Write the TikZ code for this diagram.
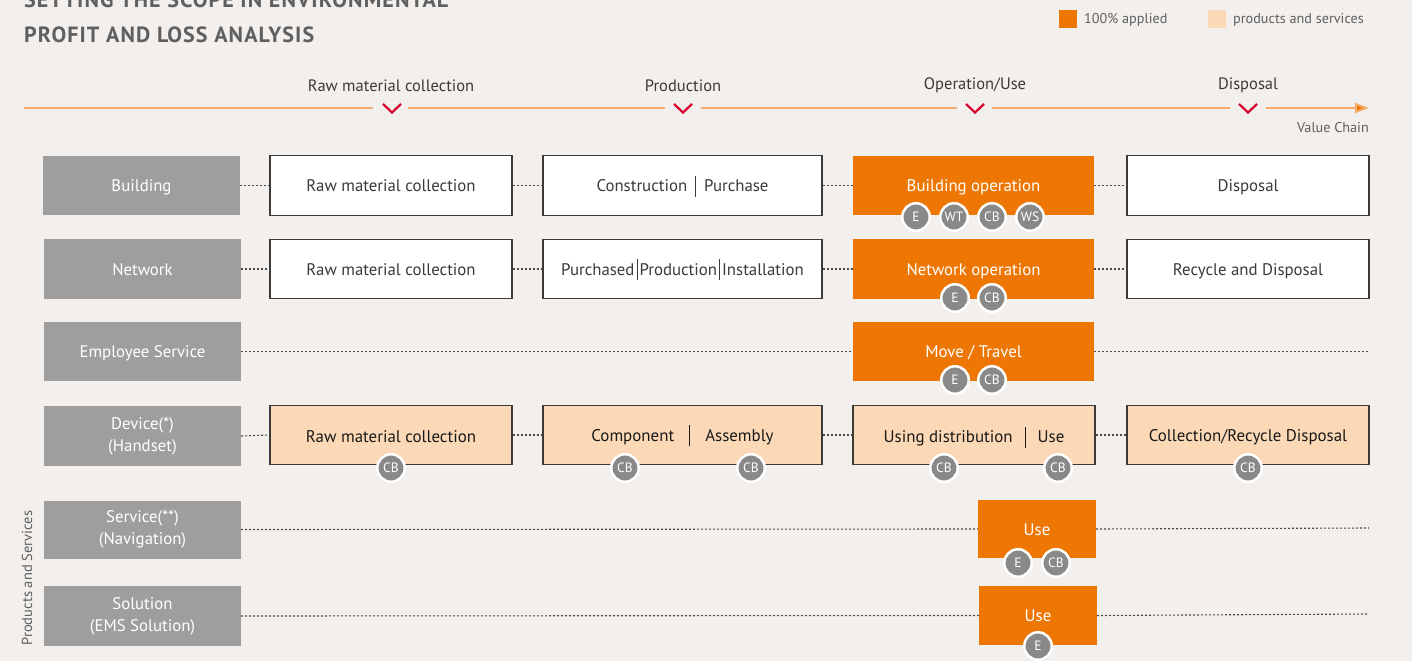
\documentclass[tikz,border=0pt]{standalone}
\usepackage{fontspec}
\setmainfont{PT Sans}
\usetikzlibrary{arrows.meta,calc}
\definecolor{bgc}{HTML}{F3EFEC}
\definecolor{orng}{HTML}{EE7703}
\definecolor{peach}{HTML}{FBD8B6}
\definecolor{lblgray}{HTML}{9D9E9D}
\definecolor{circgray}{HTML}{898989}
\definecolor{chainline}{HTML}{F3AA6C}
\definecolor{chev}{HTML}{D5002B}
\definecolor{txtdark}{HTML}{3A3A3A}
\definecolor{titlegray}{HTML}{5E5F60}
\definecolor{dotgray}{HTML}{4A4A4A}
\newcommand\fsz[2]{\fontsize{#1}{#2}\selectfont}
\newcommand\vbar[1]{\hspace{#1}\rule[-5pt]{1pt}{21pt}\hspace{#1}}
\tikzset{
  x=1pt, y=-1pt,
  lbl/.style={fill=lblgray, text=white, minimum width=197pt, minimum height=59.5pt,
    inner sep=0pt, align=center, font=\fsz{16.8}{22}},
  oneline/.style={text height=12.5pt, text depth=0pt},
  wbox/.style={fill=white, draw=txtdark, line width=1.1pt, text=txtdark,
    minimum height=59.5pt, inner sep=0pt, align=center, font=\fsz{16.8}{20}, oneline},
  obox/.style={fill=orng, text=white, minimum height=59.5pt, inner sep=0pt,
    align=center, font=\fsz{16.8}{20}, oneline},
  pbox/.style={fill=peach, draw=txtdark, line width=1.1pt, text=black!90,
    minimum height=59.5pt, inner sep=0pt, align=center, font=\fsz{16.9}{20}, oneline},
  tag/.style={circle, fill=circgray, draw=white, line width=2.5pt, minimum size=27.5pt,
    inner sep=0pt, text=white, font=\fsz{13.5}{15}},
  dots/.style={draw=dotgray, line width=1.1pt, dash pattern=on 2pt off 2pt},
  chain/.style={draw=chainline, line width=2pt},
  chevron/.style={draw=chev, line width=2.2pt},
  stage/.style={text=txtdark, font=\fsz{16.5}{18}, inner sep=0pt},
  legtxt/.style={text=titlegray, font=\fsz{14.2}{16}, inner sep=0pt, anchor=west},
  ttl/.style={text=titlegray, font=\bfseries\fsz{22}{24}\addfontfeatures{LetterSpace=5}, inner sep=0pt, anchor=base west}
}
\begin{document}
\begin{tikzpicture}
\useasboundingbox (0,0) rectangle (1412,661);
\fill[bgc] (0,0) rectangle (1412,661);

% title
\node[ttl] (t1) at (24,8) {SETTING THE SCOPE IN ENVIRONMENTAL};
\node[ttl] (t2) at (24,43) {PROFIT AND LOSS ANALYSIS};

% legend
\node[fill=orng, minimum size=18pt, inner sep=0pt] (lg1) at (1067.5,19.5) {};
\node[legtxt] (lg1t) at (1084,19.5) {100\% applied};
\node[fill=peach, minimum size=18pt, inner sep=0pt] (lg2) at (1216.5,19.5) {};
\node[legtxt] (lg2t) at (1233,19.5) {products and services};

% value chain
\node[stage] (s1) at (391,85.5) {Raw material collection};
\node[stage] (s2) at (683,85.5) {Production};
\node[stage] (s3) at (975,85.5) {Operation/Use};
\node[stage] (s4) at (1248,85.5) {Disposal};
\coordinate (v0) at (24,108);
\coordinate (v1a) at (373,108); \coordinate (v1b) at (408,108);
\coordinate (v2a) at (665,108); \coordinate (v2b) at (701,108);
\coordinate (v3a) at (957,108); \coordinate (v3b) at (992,108);
\coordinate (v4a) at (1230,108); \coordinate (v4b) at (1266,108);
\coordinate (vend) at (1369,108);
\draw[chain] (v0) -- (v1a);
\draw[chain] (v1b) -- (v2a);
\draw[chain] (v2b) -- (v3a);
\draw[chain] (v3b) -- (v4a);
\draw[chain, -{Triangle[length=14pt,width=10pt,fill=orng]}] (v4b) -- (vend);
\foreach \cx in {392,683,975,1248}{
  \draw[chevron] (\cx-9,104) -- (\cx,112.5) -- (\cx+9,104);
}
\node[text=titlegray, font=\fsz{14.2}{16}, inner sep=0pt, anchor=east] (vc) at (1369,128) {Value Chain};

% row 1: Building
\node[lbl, oneline] (l1) at (141.5,185.5) {Building};
\node[wbox, minimum width=242pt] (b11) at (391,185.5) {Raw material collection};
\node[wbox, minimum width=279pt] (b12) at (682.5,185.5) {Construction\vbar{8pt}Purchase};
\node[obox, minimum width=241pt] (b13) at (973.5,185.5) {Building operation};
\node[wbox, minimum width=242pt] (b14) at (1248,185.5) {Disposal};
\draw[dots] (l1.east) -- (b11.west);
\draw[dots] (b11.east) -- (b12.west);
\draw[dots] (b12.east) -- (b13.west);
\draw[dots] (b13.east) -- (b14.west);
\node[tag] (c11) at (916,217) {E};
\node[tag] (c12) at (954,217) {WT};
\node[tag] (c13) at (992,217) {CB};
\node[tag] (c14) at (1030,217) {WS};

% row 2: Network
\node[lbl, oneline] (l2) at (142.5,269) {Network};
\node[wbox, minimum width=242pt] (b21) at (391,269) {Raw material collection};
\node[wbox, minimum width=279pt] (b22) at (682.5,269) {Purchased\vbar{2pt}Production\vbar{2pt}Installation};
\node[obox, minimum width=241pt] (b23) at (973.5,269) {Network operation};
\node[wbox, minimum width=242pt] (b24) at (1248,269) {Recycle and Disposal};
\draw[dots] (l2.east) -- (b21.west);
\draw[dots] (b21.east) -- (b22.west);
\draw[dots] (b22.east) -- (b23.west);
\draw[dots] (b23.east) -- (b24.west);
\node[tag] (c21) at (955,298) {E};
\node[tag] (c22) at (992,298) {CB};

% row 3: Employee Service
\node[lbl, oneline] (l3) at (142.5,351.5) {Employee Service};
\node[obox, minimum width=241pt] (b33) at (973.5,351.5) {Move / Travel};
\coordinate (e3) at (1369,351.5);
\draw[dots] (l3.east) -- (b33.west);
\draw[dots] (b33.east) -- (e3);
\node[tag] (c31) at (955,380) {E};
\node[tag] (c32) at (992,380) {CB};

% row 4: Device
\node[lbl] (l4) at (142.5,436) {Device(*)\\(Handset)};
\node[pbox, minimum width=242pt] (b41) at (391,435) {\raisebox{-1.5pt}{Raw material collection}};
\node[pbox, minimum width=279pt] (b42) at (682.5,435) {Component\vbar{15pt}Assembly};
\node[pbox, minimum width=242pt] (b43) at (974,435) {\raisebox{-1.5pt}{Using distribution\vbar{12pt}Use}};
\node[pbox, minimum width=242pt] (b44) at (1248,435) {Collection/Recycle Disposal};
\draw[dots] (l4.east) -- (b41.west);
\draw[dots] (b41.east) -- (b42.west);
\draw[dots] (b42.east) -- (b43.west);
\draw[dots] (b43.east) -- (b44.west);
\node[tag] (c41) at (391,468) {CB};
\node[tag] (c42) at (625,468) {CB};
\node[tag] (c43) at (751,468) {CB};
\node[tag] (c44) at (944,468) {CB};
\node[tag] (c45) at (1058,468) {CB};
\node[tag] (c46) at (1248,468) {CB};

% row 5: Service
\node[lbl, minimum height=58pt] (l5) at (142.5,529.5) {Service(**)\\(Navigation)};
\node[obox, minimum width=118pt, minimum height=58pt] (b53) at (1037,529) {Use};
\coordinate (e5) at (1369,528);
\draw[dots] (l5.east) -- (b53.west);
\draw[dots] (b53.east) -- (e5);
\node[tag] (c51) at (1018,563) {E};
\node[tag] (c52) at (1056,563) {CB};

% row 6: Solution
\node[lbl] (l6) at (142.5,616) {Solution\\(EMS Solution)};
\node[obox, minimum width=118pt] (b63) at (1038,615.5) {Use};
\coordinate (e6) at (1369,614);
\draw[dots] (l6.east) -- (b63.west);
\draw[dots] (b63.east) -- (e6);
\node[tag] (c61) at (1038,646) {E};

% side label
\node[rotate=90, text=titlegray, font=\fsz{14.5}{16}, inner sep=0pt] (side) at (27,578) {Products and Services};
\end{tikzpicture}
\end{document}
